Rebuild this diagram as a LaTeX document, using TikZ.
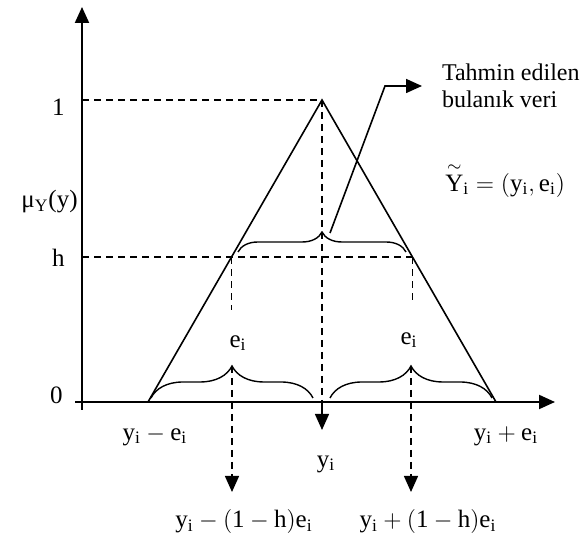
\documentclass[tikz,border=0pt]{standalone}
\usepackage{amsmath}
\usepackage{fontspec}
\setmainfont{Liberation Serif}
\usetikzlibrary{arrows.meta, decorations.pathreplacing, calc}

\begin{document}
\begin{tikzpicture}[x=0.5pt, y=0.5pt,
  axis/.style={line width=1pt, -{Triangle[length=8pt, width=7pt]}},
  guide/.style={line width=0.7pt, dash pattern=on 3.5pt off 2.5pt},
  drop/.style={guide, -{Triangle[length=8pt, width=7pt]}},
  brc/.style={decorate, line width=0.7pt, decoration={brace, amplitude=#1}},
  lbl/.style={font=\fontsize{12.5}{15}\selectfont, inner sep=1pt},
]
  \useasboundingbox (-82,-137) rectangle (502,402);

  % axes
  \coordinate (o) at (0,0);
  \coordinate (ytop) at (0,395);
  \coordinate (xend) at (473,0);
  \draw[axis] (0,-8) -- (ytop);
  \draw[axis] (-7,0) -- (xend);

  % triangular membership function
  \coordinate (L) at (66,0);
  \coordinate (A) at (240,302);
  \coordinate (R) at (414,0);
  \coordinate (hl) at ($(L)!0.48!(A)$);
  \coordinate (hr) at ($(R)!0.48!(A)$);
  \draw[line width=0.8pt] (L) -- (A) -- (R);

  \node[lbl, anchor=east] (one) at (-15,295) {1};
  \node[lbl, anchor=east] (hh) at (-15,144) {h};
  \node[lbl, anchor=east] (zero) at (-17,7) {0};
  \node[lbl, anchor=east] (mu) at (-2,200) {μ$_{\mathrm{Y}}$(y)};

  \draw[guide] (o |- A) -- (A);
  \draw[guide] (o |- hr) -- (hr);

  % centre
  \coordinate (c0) at (240,0);
  \coordinate (c1) at (240,-28);
  \draw[guide] (A) -- (c0);
  \draw[line width=0.7pt, -{Triangle[length=8pt, width=7pt]}] (c0) -- (c1);
  \node[lbl] (yi) at (244,-62) {$\mathrm{y_i}$};

  % h-cut and spreads
  \node[lbl] (el) at (156,59) {$\mathrm{e_i}$};
  \node[lbl] (er) at (327,62) {$\mathrm{e_i}$};
  \coordinate (dl) at (150,-90);
  \coordinate (dr) at (329,-90);
  \draw[guide] (hl) -- (hl |- 0,92);
  \draw[guide] (hr) -- (hr |- 0,97);
  \draw[drop] (150,36) -- (dl);
  \draw[drop] (329,36) -- (dr);

  \draw[brc=10pt] (156,150) -- (324,150);
  \draw[brc=16pt] (69,4) -- (231,4);
  \draw[brc=16pt] (248,4) -- (410,4);

  \node[lbl] (lo) at (73,-34) {$\mathrm{y_i - e_i}$};
  \node[lbl] (hi) at (424,-34) {$\mathrm{y_i + e_i}$};
  \node[lbl] (dlo) at (162,-120) {$\mathrm{y_i - (1 - h)e_i}$};
  \node[lbl] (dhi) at (346,-120) {$\mathrm{y_i + (1 - h)e_i}$};

  % estimated fuzzy output
  \node[font=\fontsize{12}{13.5}\selectfont, align=left, anchor=west,
        inner sep=0pt, outer sep=10pt] (est) at (340,316) {Tahmin edilen\\bulanık veri};
  \coordinate (bt) at (248,169);
  \draw[line width=0.8pt, -{Triangle[length=8pt, width=7pt]}] (bt) -- (303,316) -- (est.west);
  \node[lbl, anchor=west, inner sep=0pt] (yt) at (363,222)
    {$\overset{\raisebox{-1pt}{$\scriptstyle\sim$}}{\mathrm{Y}}_{\mathrm{i}} = (\mathrm{y_i}, \mathrm{e_i})$};
\end{tikzpicture}
\end{document}
